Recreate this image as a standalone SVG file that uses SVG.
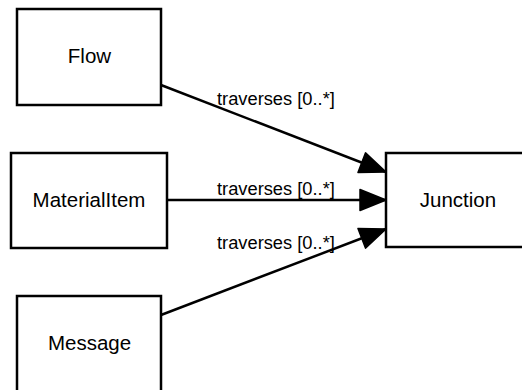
<svg xmlns="http://www.w3.org/2000/svg" width="522" height="390" viewBox="0 0 522 390">
<style>
.box{fill:#fff;stroke:#000;stroke-width:2.5}
.nt{font-family:"Liberation Sans",Arial,sans-serif;font-size:20.5px;fill:#000;text-anchor:middle}
.lt{font-family:"Liberation Sans",Arial,sans-serif;font-size:18.3px;fill:#000}
.edge{stroke:#000;stroke-width:2.5;fill:none;marker-end:url(#arr)}
</style>
<defs>
<marker id="arr" markerUnits="userSpaceOnUse" markerWidth="32" markerHeight="26" refX="28" refY="13" orient="auto">
<path d="M2,2.5 L28,13 L2,23.5 z" fill="#000" stroke="#000" stroke-width="1.5" stroke-linejoin="round"/>
</marker>
</defs>
<rect width="522" height="390" fill="#fff"/>
<g id="Flow"><rect class="box" x="17" y="9" width="144" height="96"/><text class="nt" x="89.5" y="63">Flow</text></g>
<g id="MaterialItem"><rect class="box" x="11" y="153" width="156" height="95"/><text class="nt" x="89" y="207">MaterialItem</text></g>
<g id="Message"><rect class="box" x="17" y="296" width="144" height="110"/><text class="nt" x="89.5" y="350">Message</text></g>
<g id="Junction"><rect class="box" x="386" y="153" width="150" height="94"/><text class="nt" x="458" y="207">Junction</text></g>
<g id="connectors">
<path class="edge" d="M161,85 L386,172"/>
<path class="edge" d="M167,200 L386,200"/>
<path class="edge" d="M161,315 L386,229"/>
<text class="lt" x="217" y="104.5">traverses [0..*]</text>
<text class="lt" x="217" y="194.5">traverses [0..*]</text>
<text class="lt" x="217" y="248.5">traverses [0..*]</text>
</g>
</svg>
